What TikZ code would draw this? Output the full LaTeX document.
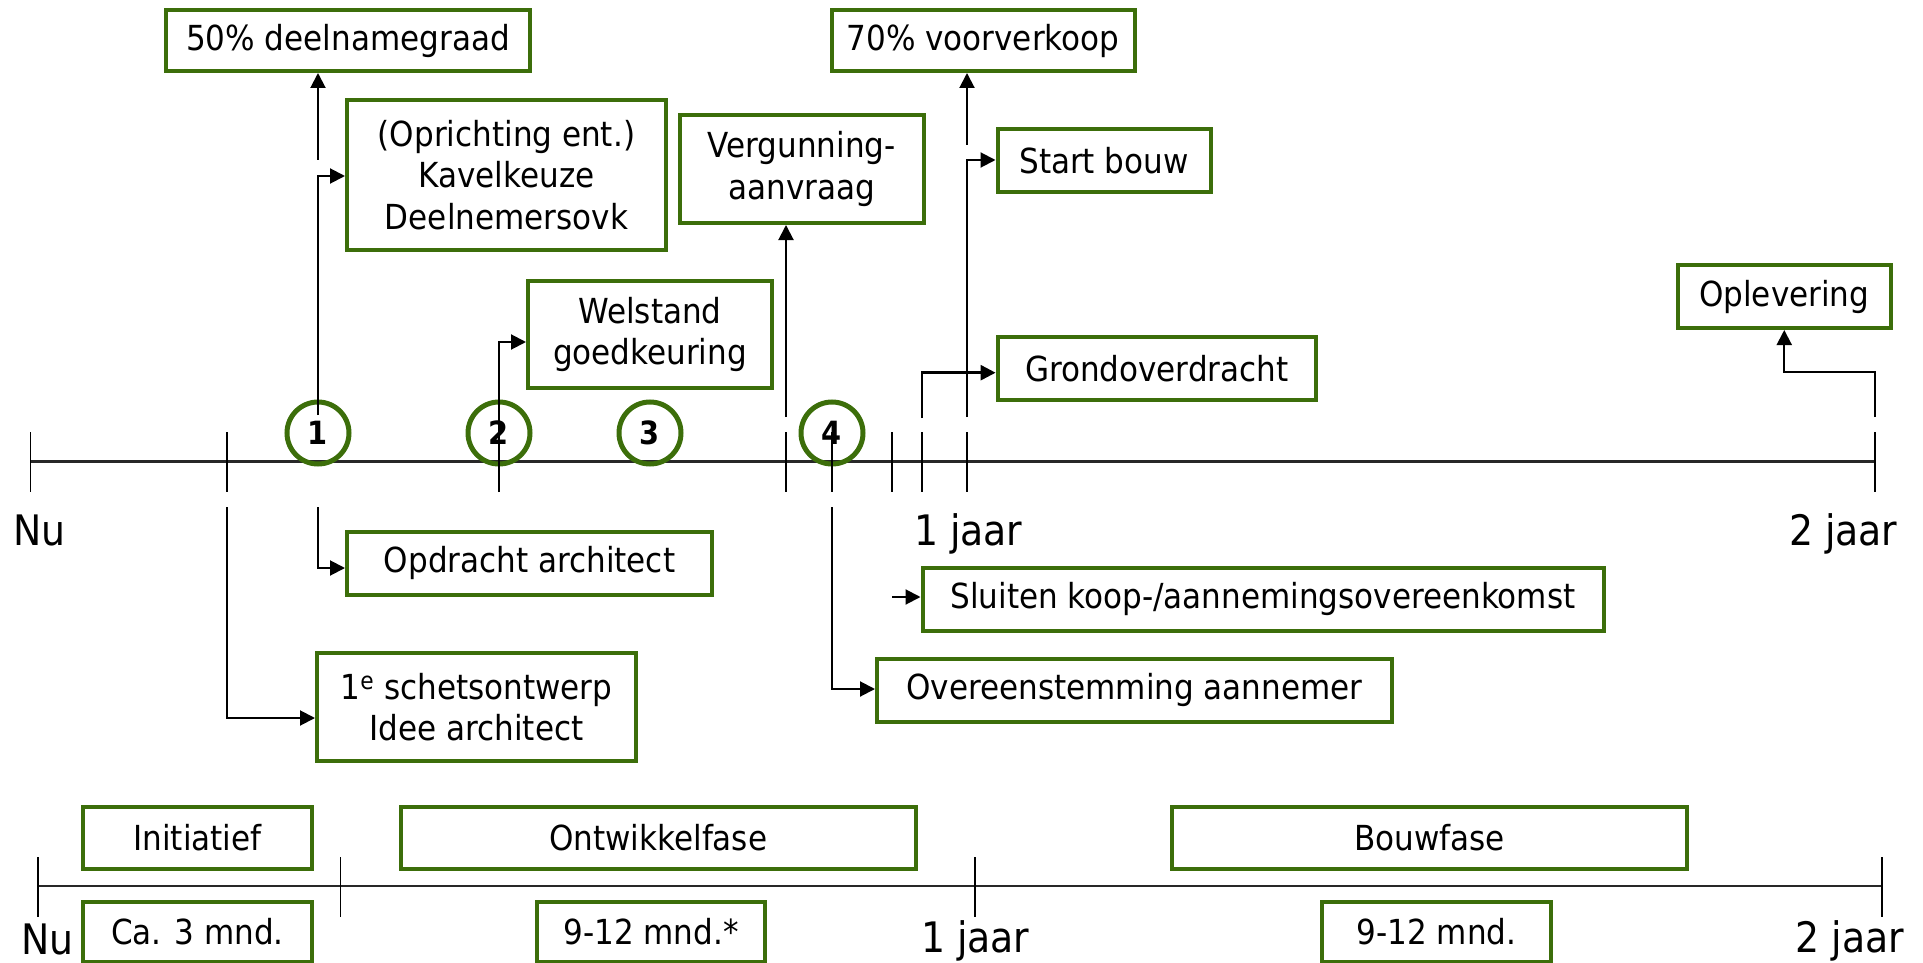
\documentclass[tikz,border=0pt]{standalone}
\usepackage{fontspec}
\setmainfont{DejaVu Sans Condensed}
\usetikzlibrary{arrows.meta}
\definecolor{grn}{RGB}{60,110,10}
\definecolor{axisc}{RGB}{40,40,40}
\begin{document}
\begin{tikzpicture}[x=1pt,y=-1pt,
 box/.style={draw=grn, line width=4pt, align=center, inner sep=0pt, font=\fontsize{34.5}{41.5}\selectfont},
 circ/.style={draw=grn, line width=5pt, circle, minimum size=62pt, inner sep=0pt, font=\fontsize{32}{32}\selectfont\bfseries},
 lbl/.style={anchor=base west, inner sep=0pt, font=\fontsize{42}{42}\selectfont},
 axisline/.style={draw=axisc, line width=2.5pt},
 tickline/.style={draw=black, line width=1.6pt},
 conn/.style={draw=black, line width=2pt},
 arr/.style={conn, -{Triangle[length=15pt,width=15pt]}},
]
\useasboundingbox (0,0) rectangle (1923,963);

% boxes
\node[box, minimum width=364pt, minimum height=61pt] (b50) at (348,40.5) {50\% deelnamegraad};
\node[box, minimum width=319pt, minimum height=150pt] (bopr) at (506.5,175) {(Oprichting ent.)\\Kavelkeuze\\Deelnemersovk};
\node[box, minimum width=243.5pt, minimum height=108pt] (bverg) at (801.75,169) {Vergunning-\\aanvraag};
\node[box, minimum width=244pt, minimum height=107pt] (bwel) at (650,334.5) {Welstand\\goedkeuring};
\node[box, minimum width=303pt, minimum height=61pt] (b70) at (983,40.5) {70\% voorverkoop};
\node[box, minimum width=213pt, minimum height=63pt] (bstart) at (1104,160.5) {Start bouw};
\node[box, minimum width=318.4pt, minimum height=63pt] (bgrond) at (1156.8,368.5) {Grondoverdracht};
\node[box, minimum width=212.5pt, minimum height=63pt] (bopl) at (1784.25,296.5) {Oplevering};
\node[box, minimum width=365pt, minimum height=63pt] (bopd) at (529.5,563.3) {Opdracht architect};
\node[box, minimum width=319pt, minimum height=108pt] (bsch) at (476.5,706.9) {1\textsuperscript{e} schetsontwerp\\Idee architect};
\node[box, minimum width=681pt, minimum height=63pt] (bslu) at (1263,599.2) {Sluiten koop-/aannemingsovereenkomst};
\node[box, minimum width=515pt, minimum height=63pt] (bove) at (1134.5,690) {Overeenstemming aannemer};
\node[box, minimum width=229pt, minimum height=62pt] (bini) at (197.5,838) {Initiatief};
\node[box, minimum width=514.5pt, minimum height=62pt] (bont) at (658.25,838) {Ontwikkelfase};
\node[box, minimum width=515pt, minimum height=62pt] (bbouw) at (1429.5,838) {Bouwfase};
\node[box, minimum width=229pt, minimum height=60pt] (bca) at (197.5,932) {Ca. 3 mnd.};
\node[box, minimum width=228pt, minimum height=60pt] (bm1) at (651,932) {9-12 mnd.*};
\node[box, minimum width=229pt, minimum height=60pt] (bm2) at (1436.5,932) {9-12 mnd.};

% upper timeline
\draw[axisline] (30.6,461.7) -- (1875,461.7);
\node[circ] (c1) at (318,433) {1};
\node[circ] (c2) at (499,433) {2};
\node[circ] (c3) at (650,433) {3};
\node[circ] (c4) at (832,433) {4};
\foreach \x in {30.6,227,786,832,892,922,967,1875} \draw[tickline] (\x,432) -- (\x,492);

% labels
\node[lbl] (nu1) at (13.5,545) {Nu};
\node[lbl] (j1) at (914,545) {1 jaar};
\node[lbl] (j2) at (1789,545) {2 jaar};
\node[lbl] (nu2) at (21.4,954) {Nu};
\node[lbl] (j1b) at (921,952) {1 jaar};
\node[lbl] (j2b) at (1795.6,952) {2 jaar};

% connectors
\coordinate (s1up) at (318,160);
\coordinate (s1) at (318,415);
\coordinate (s1d) at (318,507);
\coordinate (s227) at (227,507);
\coordinate (s2) at (499,492);
\coordinate (s786) at (786,417);
\coordinate (s4) at (832,507);
\coordinate (s892) at (892,597);
\coordinate (s922) at (922,418);
\coordinate (s967) at (967,417);
\coordinate (s967up) at (967,145);
\coordinate (s1875) at (1875,417);
\draw[arr] (s1up) -- (b50.south -| s1up);
\draw[arr] (s1) |- (bopr.west |- 0,176);
\draw[arr] (s1d) |- (bopd.west |- 0,568);
\draw[arr] (s227) |- (bsch.west |- 0,718);
\draw[arr] (s2) |- (bwel.west |- 0,342);
\draw[arr] (s786) -- (bverg.south -| s786);
\draw[arr] (s4) |- (bove.west |- 0,689);
\draw[arr] (s892) -- (bslu.west |- s892);
\draw[arr, line width=2.6pt] (s922) |- (bgrond.west |- 0,372.7);
\draw[arr] (s967) |- (bstart.west |- 0,160);
\draw[arr] (s967up) -- (b70.south -| s967up);
\draw[arr] (s1875) |- (1784.25,372) -- (bopl.south);

% lower timeline
\draw[axisline] (38,886) -- (1882,886);
\foreach \x in {38,340.5,975,1882} \draw[tickline] (\x,857) -- (\x,917);
\end{tikzpicture}
\end{document}
